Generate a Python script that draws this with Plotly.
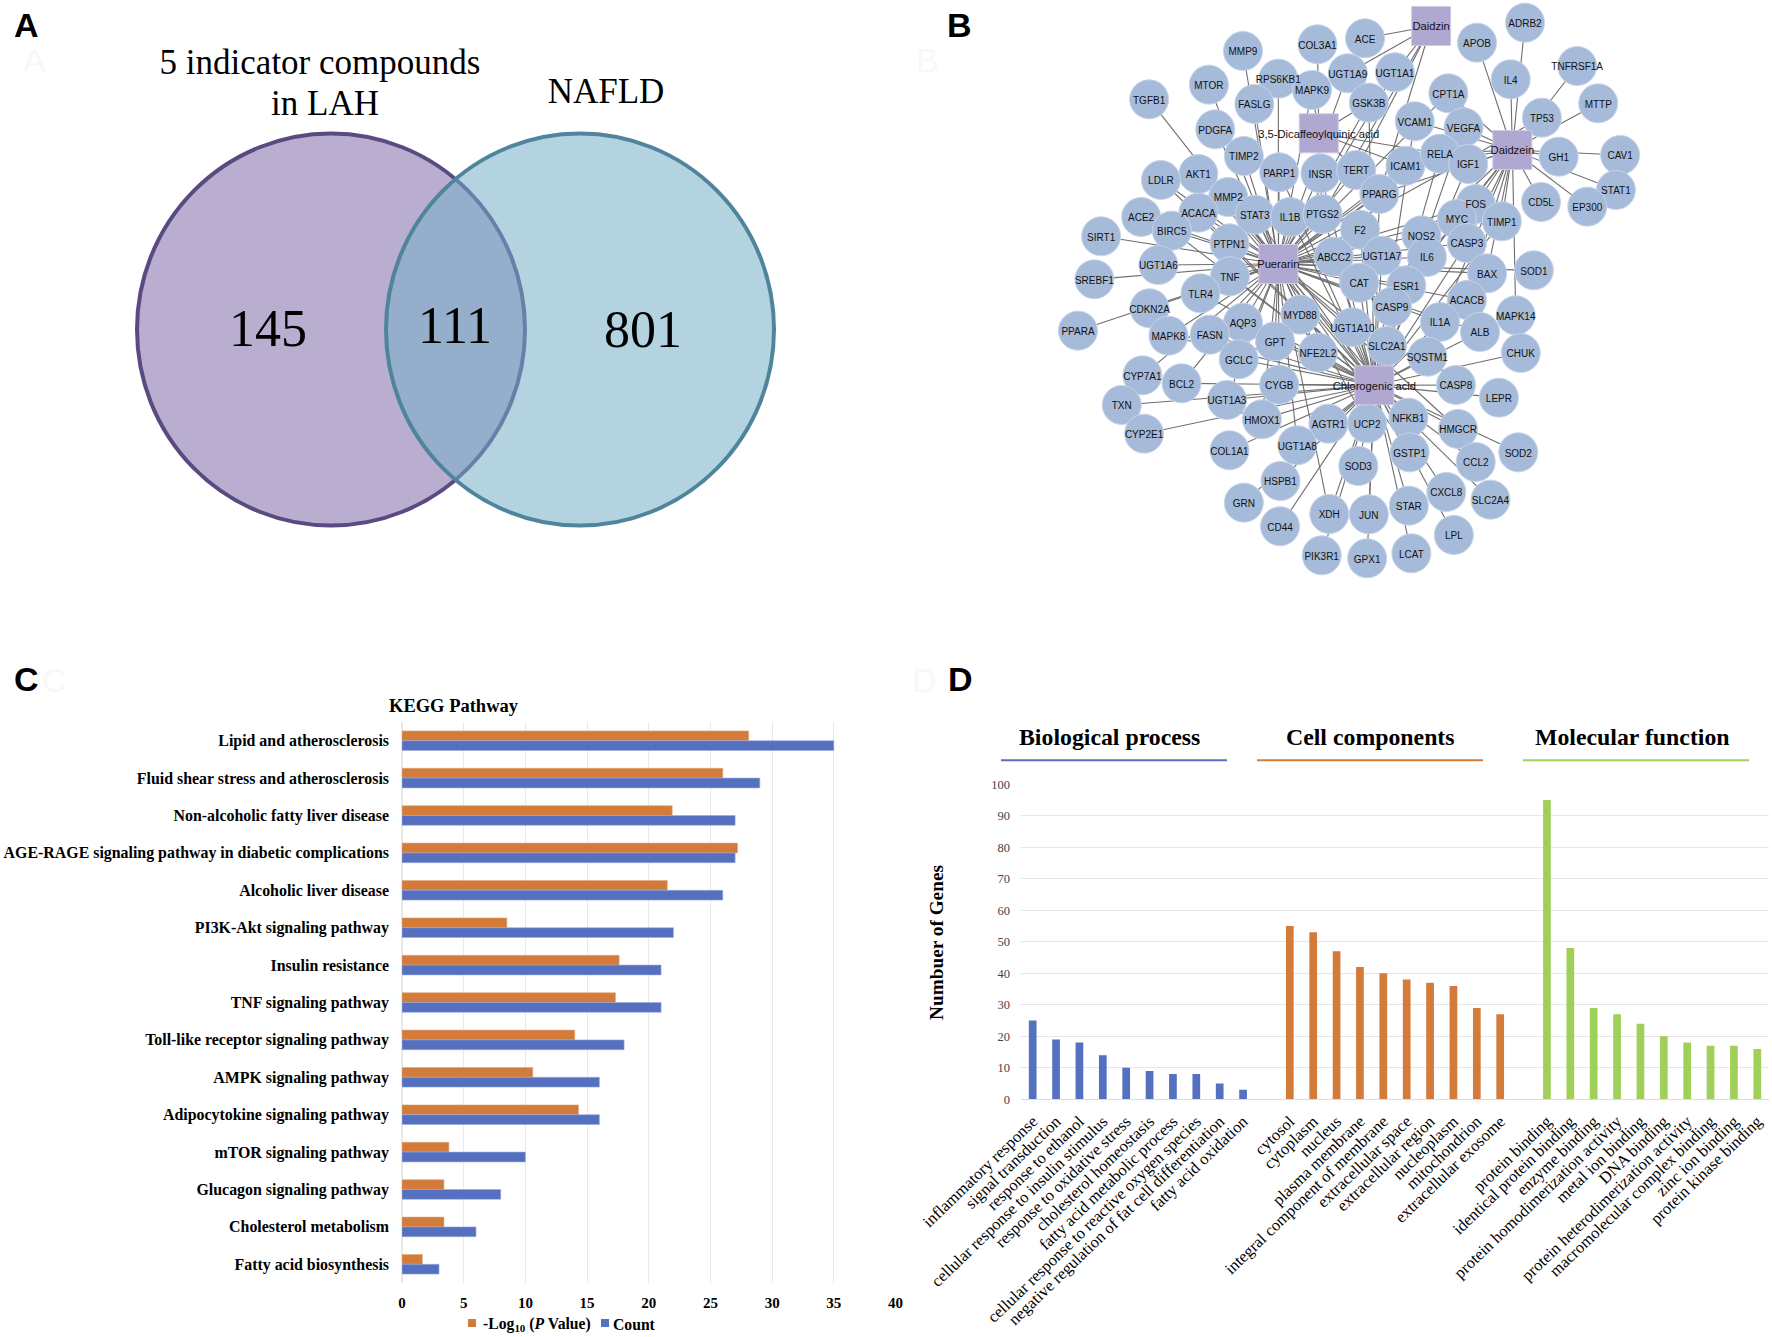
import plotly.graph_objects as go

W, H = 1772, 1337
SERIF = "Liberation Serif"
SANS = "Liberation Sans"

# ---------- Panel A ----------
venn_counts = ["145", "111", "801"]
venn_count_x = [268, 455, 643]
venn_count_y = [333, 330, 334]
venn_titles = ["5 indicator compounds", "in LAH", "NAFLD"]
venn_title_x = [320, 325, 606]
venn_title_y = [65, 106, 94]

# ---------- Panel B ----------
compounds = ["Daidzin", "3,5-Dicaffeoylquinic acid", "Daidzein", "Puerarin", "Chlorogenic acid"]
compound_keys = ["N", "Q", "Z", "P", "C"]
compound_x = [953, 686, 1146, 590, 818]
compound_y = [78, 400, 450, 792, 1156]

genes = ["MMP9", "COL3A1", "ACE", "ADRB2", "APOB", "TNFRSF1A", "MTOR", "RPS6KB1", "UGT1A9", "UGT1A1", "IL4", "TGFB1",
         "FASLG", "MAPK9", "GSK3B", "CPT1A", "TP53", "MTTP", "PDGFA", "VCAM1", "VEGFA", "TIMP2", "GH1", "CAV1",
         "PARP1", "INSR", "TERT", "ICAM1", "RELA", "IGF1", "AKT1", "LDLR", "STAT1", "PPARG", "CD5L", "EP300",
         "MMP2", "ACACA", "STAT3", "IL1B", "PTGS2", "FOS", "MYC", "TIMP1", "ACE2", "BIRC5", "F2", "NOS2",
         "CASP3", "SIRT1", "PTPN1", "ABCC2", "UGT1A7", "IL6", "UGT1A6", "SOD1", "BAX", "SREBF1", "TNF", "CAT",
         "ESR1", "TLR4", "ACACB", "CDKN2A", "CASP9", "MAPK14", "MYD88", "AQP3", "IL1A", "PPARA", "UGT1A10", "ALB",
         "MAPK8", "FASN", "GPT", "CHUK", "SLC2A1", "NFE2L2", "SQSTM1", "GCLC", "CYP7A1", "BCL2", "CYGB", "CASP8",
         "LEPR", "UGT1A3", "TXN", "HMOX1", "NFKB1", "AGTR1", "UCP2", "HMGCR", "CYP2E1", "SOD2", "GSTP1", "UGT1A8",
         "COL1A1", "CCL2", "SOD3", "HSPB1", "CXCL8", "SLC2A4", "GRN", "STAR", "XDH", "JUN", "CD44", "LPL",
         "PIK3R1", "LCAT", "GPX1"]
gene_x = [506, 683, 796, 1176, 1062, 1300, 425, 590, 755, 867, 1142, 283,
          533, 670, 805, 994, 1216, 1350, 440, 914, 1030, 508, 1256, 1402,
          592, 690, 775, 892, 974, 1041, 400, 311, 1392, 830, 1214, 1324,
          471, 400, 534, 618, 695, 1059, 1014, 1121, 264, 337, 784, 930,
          1038, 169, 474, 722, 836, 943, 305, 1197, 1086, 153, 475, 782,
          894, 405, 1038, 284, 860, 1154, 642, 506, 974, 114, 766, 1069,
          329, 427, 582, 1166, 848, 684, 944, 496, 267, 360, 592, 1012,
          1114, 468, 218, 551, 899, 709, 801, 1017, 271, 1160, 902, 635,
          474, 1059, 780, 595, 989, 1094, 508, 900, 711, 805, 594, 1007,
          693, 906, 801]
gene_y = [153, 133, 115, 68, 128, 198, 254, 236, 220, 217, 238, 298,
          312, 270, 308, 280, 353, 310, 388, 364, 382, 468, 470, 465,
          517, 520, 510, 497, 461, 492, 522, 540, 570, 582, 606, 620,
          591, 638, 644, 651, 642, 612, 657, 664, 651, 692, 689, 706,
          729, 709, 730, 770, 767, 771, 795, 811, 820, 838, 829, 848,
          856, 880, 900, 925, 920, 946, 944, 968, 966, 992, 982, 996,
          1007, 1004, 1024, 1059, 1038, 1058, 1070, 1078, 1126, 1150, 1154, 1155,
          1193, 1200, 1215, 1258, 1253, 1271, 1270, 1287, 1301, 1357, 1357, 1336,
          1351, 1386, 1398, 1443, 1476, 1499, 1508, 1517, 1542, 1543, 1579, 1605,
          1666, 1660, 1675]
gene_links = ["P", "Q", "N", "Z", "Z", "Z", "P", "P", "NP", "NP", "Z", "P",
              "P", "PQ", "PQC", "ZP", "ZP", "Z", "P", "ZC", "ZPC", "P", "Z", "Z",
              "PC", "PC", "PQN", "ZPQ", "ZPCQ", "ZC", "PC", "PC", "Z", "ZPCN", "Z", "Z",
              "PC", "PC", "PC", "PC", "PCN", "ZP", "ZP", "ZC", "P", "PC", "PC", "PCZ",
              "PCZ", "P", "P", "PC", "PC", "PCZ", "P", "P", "PZ", "P", "PC", "PC",
              "PCZ", "PC", "PZ", "P", "PC", "Z", "PC", "PC", "PCZ", "P", "PC", "PC",
              "PC", "PC", "PC", "C", "PC", "PC", "C", "PC", "P", "PC", "CP", "C",
              "C", "CP", "C", "CP", "PC", "C", "PC", "PC", "C", "C", "PC", "CP",
              "C", "C", "C", "C", "C", "C", "C", "C", "CP", "C", "C", "C",
              "C", "C", "C"]

# ---------- Panel C ----------
kegg_terms = ["Lipid and atherosclerosis", "Fluid shear stress and atherosclerosis",
              "Non-alcoholic fatty liver disease", "AGE-RAGE signaling pathway in diabetic complications",
              "Alcoholic liver disease", "PI3K-Akt signaling pathway", "Insulin resistance",
              "TNF signaling pathway", "Toll-like receptor signaling pathway", "AMPK signaling pathway",
              "Adipocytokine signaling pathway", "mTOR signaling pathway", "Glucagon signaling pathway",
              "Cholesterol metabolism", "Fatty acid biosynthesis"]
kegg_logp = [28.1, 26, 21.9, 27.2, 21.5, 8.5, 17.6, 17.3, 14, 10.6, 14.3, 3.8, 3.4, 3.4, 1.65]
kegg_count = [35, 29, 27, 27, 26, 22, 21, 21, 18, 16, 16, 10, 8, 6, 3]
kegg_series = ["-Log<sub>10</sub> (<i>P</i> Value)", "Count"]

# ---------- Panel D ----------
bp_terms = ["inflammatory response", "signal transduction", "response to ethanol",
            "cellular response to insulin stimulus", "response to oxidative stress", "cholesterol homeostasis",
            "fatty acid metabolic process", "cellular response to reactive oxygen species",
            "negative regulation of fat cell differentiation", "fatty acid oxidation"]
bp_values = [25, 19, 18, 14, 10, 9, 8, 8, 5, 3]
cc_terms = ["cytosol", "cytoplasm", "nucleus", "plasma membrane", "integral component of membrane",
            "extracellular space", "extracellular region", "nucleoplasm", "mitochondrion", "extracellular exosome"]
cc_values = [55, 53, 47, 42, 40, 38, 37, 36, 29, 27]
mf_terms = ["protein binding", "identical protein binding", "enzyme binding", "protein homodimerization activity",
            "metal ion binding", "DNA binding", "protein heterodimerization activity",
            "macromolecular complex binding", "zinc ion binding", "protein kinase binding"]
mf_values = [95, 48, 29, 27, 24, 20, 18, 17, 17, 16]

BLUE, ORANGE, GREEN = "#5470bf", "#d27b3a", "#a0cf5a"
LABEL_DROP = 5  # node captions sit slightly lower than plotly's middle anchor


def px(x):
    return x / W


def py(y):
    return 1 - y / H


fig = go.Figure()

# Panel A text
fig.add_trace(go.Scatter(x=venn_count_x, y=venn_count_y, text=venn_counts, mode="text", xaxis="x", yaxis="y",
                         textfont=dict(family=SERIF, size=52, color="#000"), showlegend=False, hoverinfo="skip"))
fig.add_trace(go.Scatter(x=venn_title_x, y=venn_title_y, text=venn_titles, mode="text", xaxis="x", yaxis="y",
                         textfont=dict(family=SERIF, size=35, color="#000"), showlegend=False, hoverinfo="skip"))

# Panel B edges
key_pos = {k: (x, y) for k, x, y in zip(compound_keys, compound_x, compound_y)}
edge_x, edge_y = [], []
for gx, gy, links in zip(gene_x, gene_y, gene_links):
    for k in links:
        cx, cy = key_pos[k]
        edge_x += [gx, cx, None]
        edge_y += [gy, cy, None]
fig.add_trace(go.Scatter(x=edge_x, y=edge_y, mode="lines", xaxis="x2", yaxis="y2",
                         line=dict(color="#6e6e6e", width=1.1), showlegend=False, hoverinfo="skip"))
fig.add_trace(go.Scatter(x=gene_x, y=gene_y, mode="markers", xaxis="x2", yaxis="y2",
                         marker=dict(size=39, color="#a6bbd9", line=dict(color="#c6d4e8", width=1)),
                         showlegend=False, hoverinfo="skip", cliponaxis=False))
fig.add_trace(go.Scatter(x=compound_x, y=compound_y, mode="markers", xaxis="x2", yaxis="y2",
                         marker=dict(size=39, symbol="square", color="#b0a8d0", line=dict(color="#cfcae2", width=1)),
                         showlegend=False, hoverinfo="skip", cliponaxis=False))
fig.add_trace(go.Scatter(x=gene_x, y=[v + LABEL_DROP for v in gene_y], text=genes, mode="text", xaxis="x2", yaxis="y2",
                         textfont=dict(family=SANS, size=10, color="#111"), textposition="middle center",
                         showlegend=False, hoverinfo="skip", cliponaxis=False))
fig.add_trace(go.Scatter(x=compound_x, y=[v + LABEL_DROP for v in compound_y], text=compounds, mode="text",
                         xaxis="x2", yaxis="y2", textfont=dict(family=SANS, size=11.2, color="#111"),
                         textposition="middle center", showlegend=False, hoverinfo="skip", cliponaxis=False))

# Panel C bars
fig.add_trace(go.Bar(y=kegg_terms, x=kegg_logp, orientation="h", name=kegg_series[0], showlegend=False,
                     xaxis="x3", yaxis="y3", marker=dict(color=ORANGE, line=dict(color="#e3a67a", width=0.6))))
fig.add_trace(go.Bar(y=kegg_terms, x=kegg_count, orientation="h", name=kegg_series[1], showlegend=False,
                     xaxis="x3", yaxis="y3", marker=dict(color=BLUE, line=dict(color="#9aaade", width=0.6))))

# Panel D bars
slots = bp_terms + [" "] + cc_terms + ["  "] + mf_terms
real_terms = bp_terms + cc_terms + mf_terms
real_values = bp_values + cc_values + mf_values
real_colors = [BLUE] * len(bp_terms) + [ORANGE] * len(cc_terms) + [GREEN] * len(mf_terms)
fig.add_trace(go.Bar(x=real_terms, y=real_values, width=0.33, xaxis="x4", yaxis="y4", showlegend=False,
                     marker=dict(color=real_colors, line=dict(width=0))))

shapes = [
    dict(type="circle", xref="x", yref="y", x0=137, x1=525, y0=133.5, y1=525.5, layer="below",
         fillcolor="#b9aed0", line=dict(color="#5a4a82", width=4)),
    dict(type="circle", xref="x", yref="y", x0=386, x1=774, y0=133.5, y1=525.5, layer="below",
         fillcolor="rgba(117,174,200,0.543)", line=dict(color="#4f859c", width=4)),
]
for x0, x1, c in [(1001, 1227, BLUE), (1257, 1483, ORANGE), (1523, 1749, GREEN)]:
    shapes.append(dict(type="line", xref="paper", yref="paper", x0=px(x0), x1=px(x1), y0=py(760.3), y1=py(760.3),
                       line=dict(color=c, width=2)))
for x0, c in [(468, ORANGE), (601, BLUE)]:
    shapes.append(dict(type="rect", xref="paper", yref="paper", x0=px(x0), x1=px(x0 + 8), y0=py(1327), y1=py(1319),
                       fillcolor=c, line=dict(width=0)))


def note(text, x, y, size, family=SERIF, bold=False, color="#000", angle=0, anchor="center"):
    t = f"<b>{text}</b>" if bold else text
    return dict(text=t, x=px(x), y=py(y), xref="paper", yref="paper", showarrow=False, xanchor=anchor,
                yanchor="middle", textangle=angle, font=dict(family=family, size=size, color=color))


annotations = [
    note("A", 34, 60, 34, SANS, color="#f8f8f8"),
    note("B", 927, 60, 34, SANS, color="#f8f8f8"),
    note("C", 54, 680, 34, SANS, color="#f8f8f8"),
    note("D", 925, 680, 34, SANS, color="#f8f8f8"),
    note("A", 26, 25, 34, SANS, True),
    note("B", 959, 25, 34, SANS, True),
    note("C", 26, 679, 34, SANS, True),
    note("D", 960, 679, 34, SANS, True),
    note("KEGG Pathway", 454, 706, 18.5, SERIF, True),
    note("Biological process", 1109, 737, 23.8, SERIF, True),
    note("Cell components", 1370, 737, 23.8, SERIF, True),
    note("Molecular function", 1632, 737, 23.8, SERIF, True),
    note("Numbuer of Genes", 936, 943, 19.3, SERIF, True, angle=-90),
    note(kegg_series[0], 481, 1324, 15.7, SERIF, True, anchor="left"),
    note(kegg_series[1], 611, 1324, 15.7, SERIF, True, anchor="left"),
]

hidden = dict(visible=False, showgrid=False, zeroline=False, automargin=False)
fig.update_layout(
    width=W, height=H, autosize=False, margin=dict(l=0, r=0, t=0, b=0),
    paper_bgcolor="#fff", plot_bgcolor="#fff",
    barmode="group", bargap=0.476, bargroupgap=0,
    xaxis=dict(domain=[0, px(886)], range=[0, 886], **hidden),
    yaxis=dict(domain=[py(620), 1], range=[620, 0], **hidden),
    xaxis2=dict(domain=[px(1030), px(1690)], range=[0, 1568], **hidden),
    yaxis2=dict(domain=[py(590), 1], range=[1770, 0], **hidden),
    xaxis3=dict(domain=[px(402), px(895.5)], range=[0, 40], anchor="y3", dtick=5, showgrid=True, automargin=False,
                gridcolor="#e8e8e8", zeroline=True, zerolinecolor="#e8e8e8", showline=False, ticks="",
                tickfont=dict(family=SERIF, size=15, color="#000"), tickprefix="<b>", ticksuffix="</b>",
                ticklabelstandoff=9),
    yaxis3=dict(domain=[py(1283), py(722)], anchor="x3", type="category", categoryorder="array", automargin=False,
                categoryarray=kegg_terms, autorange="reversed", showgrid=False, zeroline=False, showline=False,
                ticks="", tickfont=dict(family=SERIF, size=15.9, color="#000"), tickprefix="<b>", ticksuffix="</b>",
                ticklabelstandoff=12),
    xaxis4=dict(domain=[px(1021), px(1769)], anchor="y4", type="category", categoryorder="array", automargin=False,
                categoryarray=slots, range=[-0.5, 31.5], tickangle=-44, showgrid=False, zeroline=False, showline=True,
                linecolor="#dcdcdc", ticks="", tickfont=dict(family=SERIF, size=16.5, color="#000"),
                tickprefix="<b>", ticksuffix="</b>", tickmode="array", tickvals=real_terms,
                ticklabelstandoff=5),
    yaxis4=dict(domain=[py(1099.3), py(784.3)], anchor="x4", range=[0, 100], dtick=10, showgrid=True, automargin=False,
                gridcolor="#e6e6e6", zeroline=False, showline=False, ticks="",
                tickfont=dict(family=SERIF, size=12.5, color="#444"), ticklabelstandoff=10),
    showlegend=False,
    shapes=shapes, annotations=annotations,
)

fig.write_html("out.html", config=dict(displayModeBar=False), post_script="document.body.style.margin='0';")
